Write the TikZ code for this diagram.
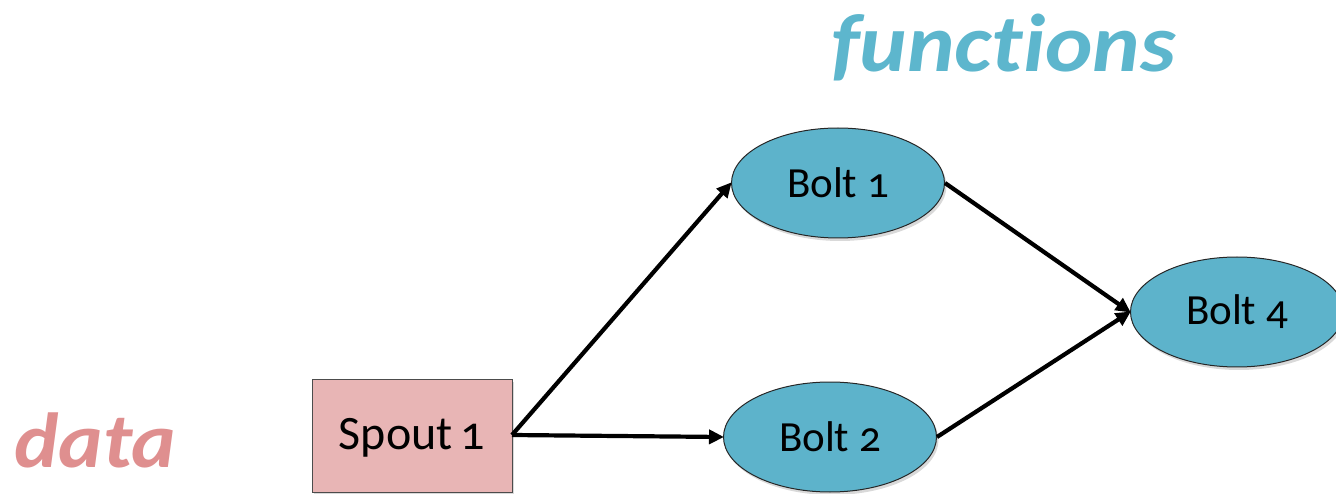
\documentclass[tikz,border=0pt]{standalone}
\usepackage{fontspec}
\setmainfont{Carlito}[Numbers=OldStyle]
\usetikzlibrary{arrows.meta,shapes.geometric,shadows}
\definecolor{boltblue}{HTML}{5DB3CB}
\definecolor{spoutpink}{HTML}{E8B5B5}
\definecolor{datapink}{HTML}{DF8F8F}
\definecolor{funcblue}{HTML}{5DB6CD}
\tikzset{
  bolt/.style={ellipse, draw=black!85, line width=1pt, fill=boltblue,
    minimum width=213pt, minimum height=110pt, inner sep=0pt,
    font=\fontsize{43}{50}\selectfont,
    drop shadow={shadow xshift=2pt, shadow yshift=-3pt, opacity=0.3}},
  spout/.style={rectangle, draw=black!70, line width=1pt, fill=spoutpink,
    minimum width=200pt, minimum height=113pt, inner sep=0pt, text depth=4pt,
    font=\fontsize{48}{56}\selectfont,
    drop shadow={shadow xshift=2pt, shadow yshift=-3pt, opacity=0.3}},
  flow/.style={line width=4.2pt, -{Triangle[length=15pt,width=14pt]}, shorten >=-1pt},
  title/.style={inner sep=0pt}
}
\begin{document}
\begin{tikzpicture}[x=1pt,y=1pt]
  \useasboundingbox (0,0) rectangle (1336,493);
  \node[spout] (s1) at (412,57.5) {Spout\,1};
  \node[bolt] (b1) at (838,310) {Bolt 1};
  \node[bolt] (b2) at (830,56) {Bolt 2};
  \node[bolt] (b4) at (1237,181) {Bolt 4};
  \coordinate (sr) at (512,58);
  \draw[flow] (sr) -- (b1.west);
  \draw[flow] (sr) -- (b2.west);
  \draw[flow] (b1.east) -- (b4.west);
  \draw[flow] (b2.east) -- (b4.west);
  \node[title, text=funcblue, anchor=base west, xscale=1.1] (fn) at (831,421)
    {\fontsize{82}{90}\selectfont\bfseries\itshape\addfontfeatures{Ligatures=NoCommon}functions};
  \node[title, text=datapink, anchor=base west, xscale=1.08] (dt) at (14,26)
    {\fontsize{78}{86}\selectfont\bfseries\itshape data};
\end{tikzpicture}
\end{document}
